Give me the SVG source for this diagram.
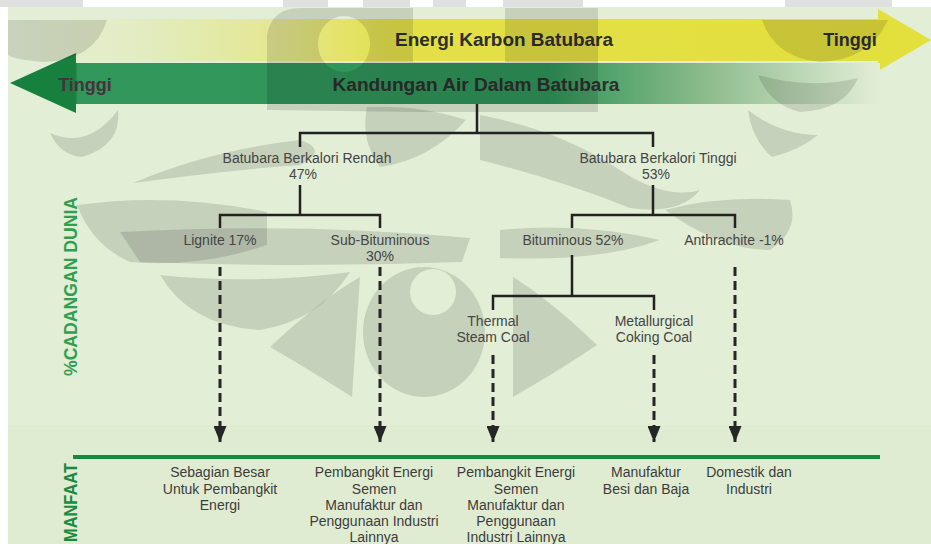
<svg xmlns="http://www.w3.org/2000/svg" width="931" height="544" viewBox="0 0 931 544">
<defs>
<linearGradient id="gy" x1="8" y1="0" x2="931" y2="0" gradientUnits="userSpaceOnUse">
<stop offset="0" stop-color="#e4efd8"/>
<stop offset="0.15" stop-color="#e3ecc0"/>
<stop offset="0.3" stop-color="#e4e78e"/>
<stop offset="0.42" stop-color="#e3e048"/>
<stop offset="1" stop-color="#e3df3c"/>
</linearGradient>
<linearGradient id="gg" x1="10" y1="0" x2="880" y2="0" gradientUnits="userSpaceOnUse">
<stop offset="0" stop-color="#17803e"/>
<stop offset="0.075" stop-color="#17803e"/>
<stop offset="0.078" stop-color="#31975a"/>
<stop offset="0.62" stop-color="#2f9558"/>
<stop offset="0.8" stop-color="#8dbb8c"/>
<stop offset="1" stop-color="#e2eed6"/>
</linearGradient>
<marker id="ah" viewBox="0 0 16 13" refX="16" refY="6.5" markerWidth="16" markerHeight="13" markerUnits="userSpaceOnUse" orient="auto">
<path d="M0,0 L16,6.5 L0,13 Z" fill="#262626"/>
</marker>
<style>
.t{font-family:"Liberation Sans",Arial,sans-serif;}
.hd{font-size:18px;font-weight:bold;fill:#2e2e2e;}
.lb{font-size:14px;fill:#454545;text-anchor:middle;}
.bt{font-size:14px;fill:#3c3c3c;text-anchor:middle;}
.side{font-size:19px;font-weight:bold;}
.tree{fill:none;stroke:#222;stroke-width:2.5;}
.dash{fill:none;stroke:#262626;stroke-width:3;stroke-dasharray:9 5;}
.wm{fill:#000;opacity:0.12;}
</style>
</defs>

<rect x="0" y="0" width="931" height="544" fill="#ffffff"/>
<rect x="8" y="7" width="923" height="537" fill="#e2eed6"/>
<rect x="8" y="425" width="923" height="119" fill="#dfecd2"/>

<g id="arrows">
<polygon points="8,19 878,19 878,9 931,40 878,71 878,61 8,61" fill="url(#gy)"/>
<polygon points="10,83 76,53 76,63 880,63 880,104 76,104 76,113" fill="url(#gg)"/>
<text class="t hd" x="504" y="46" text-anchor="middle" textLength="218" lengthAdjust="spacingAndGlyphs">Energi Karbon Batubara</text>
<text class="t hd" x="850" y="46" text-anchor="middle">Tinggi</text>
<text class="t hd" x="85" y="91" text-anchor="middle" style="fill:#4a3040">Tinggi</text>
<text class="t hd" x="476" y="91" text-anchor="middle" textLength="287" lengthAdjust="spacingAndGlyphs">Kandungan Air Dalam Batubara</text>
</g>

<g id="watermark">
<rect class="wm" x="0" y="0" width="83" height="7"/>
<rect class="wm" x="283" y="0" width="45" height="7"/>
<rect class="wm" x="363" y="0" width="47" height="7"/>
<rect class="wm" x="433" y="0" width="33" height="7"/>
<rect class="wm" x="503" y="0" width="80" height="7"/>
<rect class="wm" x="785" y="0" width="107" height="7"/>
<path class="wm" d="M8,20 L107,20 Q95,60 45,62 Q15,60 8,55 Z"/>
<path class="wm" d="M50,133 Q88,150 118,110 Q122,145 82,157 Q60,155 50,133 Z"/>
<path class="wm" d="M133,183 Q210,150 300,140 Q330,150 300,165 Q230,170 133,183 Z"/>
<path class="wm" d="M77,205 Q170,192 267,212 L267,245 Q200,268 130,262 Q92,245 77,205 Z"/>
<path class="wm" d="M120,232 Q300,222 470,238 L462,262 Q300,268 140,262 Z"/>
<path class="wm" d="M160,275 Q255,285 350,272 Q320,320 260,330 Q190,326 160,275 Z"/>
<path class="wm" d="M270,347 Q320,300 360,277 L352,397 Q310,370 270,347 Z"/>
<path class="wm" fill-rule="evenodd" d="M363,332 A61,65 0 1 0 485,332 A61,65 0 1 0 363,332 Z M410,292 A23,23 0 1 0 456,292 A23,23 0 1 0 410,292 Z"/>
<path class="wm" d="M597,345 Q550,300 513,277 L513,397 Q560,370 597,345 Z"/>
<path class="wm" fill-rule="evenodd" d="M267,110 L267,35 Q272,8 300,8 L413,8 L413,112 Z M318,44 A26,28 0 1 0 370,44 A26,28 0 1 0 318,44 Z"/>
<rect class="wm" x="413" y="62" width="92" height="50"/>
<path class="wm" d="M505,8 L598,8 L598,112 L505,112 Z"/>
<path class="wm" d="M367,107 Q420,105 466,120 Q430,160 380,167 Q360,140 367,107 Z"/>
<path class="wm" d="M480,115 Q560,130 620,170 Q665,200 700,190 Q680,215 630,208 Q560,180 480,160 Z"/>
<path class="wm" d="M665,210 Q720,195 790,200 Q800,230 770,250 Q720,250 665,210 Z"/>
<path class="wm" d="M500,230 Q580,222 660,240 Q600,262 500,258 Z"/>
<path class="wm" d="M762,20 L888,20 Q870,60 820,62 Q775,58 762,20 Z"/>
<path class="wm" d="M758,75 Q810,90 858,78 Q845,110 800,112 Q770,105 758,75 Z"/>
<path class="wm" d="M748,110 Q780,135 818,135 Q800,150 772,157 Q752,140 748,110 Z"/>
</g>

<g id="connectors">
<path class="tree" d="M477,104 V133 M300,147 V133 H653 V147"/>
<path class="tree" d="M300,185 V215 M220,228 V215 H380 V228"/>
<path class="tree" d="M653,185 V215 M572,228 V215 H735 V228"/>
<path class="tree" d="M572,255 V296 M493,310 V296 H654 V310"/>
<path class="dash" d="M220,267 V442" marker-end="url(#ah)"/>
<path class="dash" d="M380,267 V442" marker-end="url(#ah)"/>
<path class="dash" d="M493,355 V442" marker-end="url(#ah)"/>
<path class="dash" d="M654,355 V442" marker-end="url(#ah)"/>
<path class="dash" d="M735,267 V442" marker-end="url(#ah)"/>
<line x1="73" y1="457" x2="880" y2="457" stroke="#138a3e" stroke-width="4"/>
</g>

<g id="n-rendah"><text class="t lb" x="307" y="163">Batubara Berkalori Rendah</text><text class="t lb" x="303" y="179">47%</text></g>
<g id="n-tinggi"><text class="t lb" x="658" y="163">Batubara Berkalori Tinggi</text><text class="t lb" x="656" y="179">53%</text></g>
<g id="n-lignite"><text class="t lb" x="220" y="245">Lignite 17%</text></g>
<g id="n-sub"><text class="t lb" x="380" y="245">Sub-Bituminous</text><text class="t lb" x="380" y="261">30%</text></g>
<g id="n-bit"><text class="t lb" x="573" y="245">Bituminous 52%</text></g>
<g id="n-anth"><text class="t lb" x="734" y="245">Anthrachite -1%</text></g>
<g id="n-thermal"><text class="t lb" x="493" y="326">Thermal</text><text class="t lb" x="493" y="342">Steam Coal</text></g>
<g id="n-met"><text class="t lb" x="654" y="326">Metallurgical</text><text class="t lb" x="654" y="342">Coking Coal</text></g>

<g id="side-labels">
<text class="t side" transform="translate(77,286.5) rotate(-90)" text-anchor="middle" textLength="179" lengthAdjust="spacingAndGlyphs" fill="#30a050">%CADANGAN DUNIA</text>
<text class="t side" transform="translate(77,463) rotate(-90)" text-anchor="end" textLength="79" lengthAdjust="spacingAndGlyphs" fill="#1a8a40">MANFAAT</text>
</g>

<g id="m-1"><text class="t bt" x="220" y="477">Sebagian Besar</text><text class="t bt" x="220" y="494">Untuk Pembangkit</text><text class="t bt" x="220" y="510">Energi</text></g>
<g id="m-2"><text class="t bt" x="374" y="477">Pembangkit Energi</text><text class="t bt" x="374" y="494">Semen</text><text class="t bt" x="374" y="510">Manufaktur dan</text><text class="t bt" x="374" y="526">Penggunaan Industri</text><text class="t bt" x="374" y="542">Lainnya</text></g>
<g id="m-3"><text class="t bt" x="516" y="477">Pembangkit Energi</text><text class="t bt" x="516" y="494">Semen</text><text class="t bt" x="516" y="510">Manufaktur dan</text><text class="t bt" x="516" y="526">Penggunaan</text><text class="t bt" x="516" y="542">Industri Lainnya</text></g>
<g id="m-4"><text class="t bt" x="646" y="477">Manufaktur</text><text class="t bt" x="646" y="494">Besi dan Baja</text></g>
<g id="m-5"><text class="t bt" x="749" y="477">Domestik dan</text><text class="t bt" x="749" y="494">Industri</text></g>
</svg>
